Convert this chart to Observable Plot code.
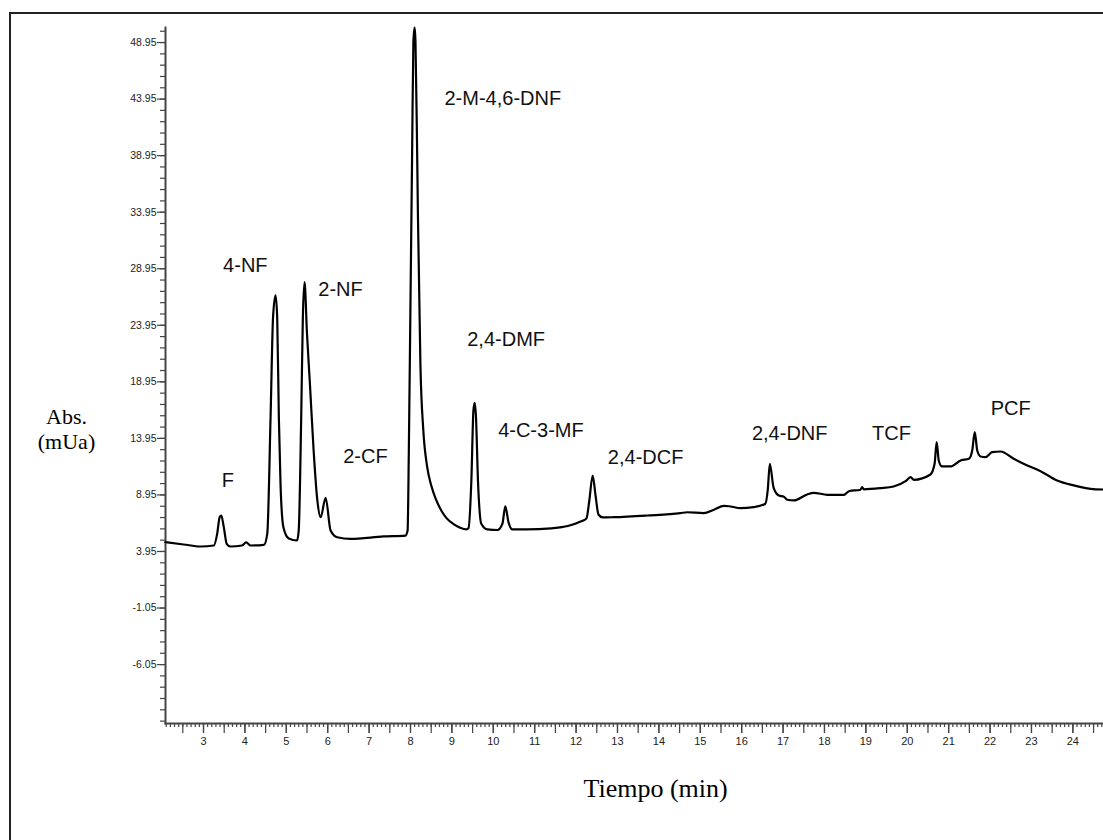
<!DOCTYPE html>
<html>
<head>
<meta charset="utf-8">
<script src="https://cdn.jsdelivr.net/npm/d3@7"></script>
<script src="https://cdn.jsdelivr.net/npm/@observablehq/plot@0.6"></script>
<style>
  html, body { margin: 0; padding: 0; background: #fff; overflow: hidden; }
  #wrap { position: relative; width: 1103px; height: 840px; }
  #border { position: absolute; left: 9px; top: 12px; width: 3000px; height: 3000px;
            border-left: 2px solid #222; border-top: 2px solid #222; pointer-events: none; }
</style>
</head>
<body>
<div id="wrap"><div id="border"></div></div>
<script>
// Chromatogram trace: retention time (min) and absorbance (mUa)
const timeMin = [
  2.08, 2.52, 2.93, 3.25, 3.33, 3.39, 3.43, 3.49, 3.56, 3.65, 3.93, 4.03, 4.14, 4.46,
  4.54, 4.62, 4.68, 4.74, 4.78, 4.82, 4.86, 4.93, 5.06, 5.26,
  5.30, 5.36, 5.40, 5.44, 5.50, 5.57, 5.66, 5.75, 5.83, 5.95, 6.07, 6.23, 6.55, 7.35, 7.88,
  7.93, 7.96, 8.00, 8.04, 8.07, 8.10, 8.12, 8.16, 8.18, 8.24, 8.31, 8.40, 8.50, 8.61, 8.74, 8.87, 9.05, 9.20, 9.35,
  9.40, 9.47, 9.52, 9.55, 9.58, 9.63, 9.71, 9.86,
  10.10, 10.22, 10.29, 10.37, 10.46, 10.80, 11.40, 11.80, 12.11,
  12.25, 12.32, 12.40, 12.47, 12.54, 12.64, 12.91, 13.72, 14.52, 14.68, 15.08, 15.33, 15.57, 15.73,
  15.97, 16.29, 16.57, 16.63, 16.68, 16.77, 16.90, 17.02, 17.10, 17.26, 17.58, 17.74, 18.07, 18.47,
  18.59, 18.87, 18.91, 18.95, 19.35, 19.67, 19.96, 20.08, 20.16, 20.56, 20.66, 20.71, 20.76, 20.84,
  21.04, 21.29, 21.49, 21.57, 21.63, 21.69, 21.77, 21.89, 22.05, 22.25, 22.57, 22.90, 23.22, 23.62,
  24.02, 24.43, 24.74
];
const absorbance = [
  4.77, 4.57, 4.39, 4.48, 5.51, 6.98, 7.13, 6.10, 4.63, 4.39, 4.48, 4.75, 4.48, 4.54,
  5.51, 15.82, 24.67, 26.60, 24.67, 15.82, 9.96, 6.10, 5.10, 4.92,
  5.81, 15.82, 24.67, 27.76, 23.20, 18.80, 12.88, 8.46, 6.98, 8.70, 5.81, 5.21, 5.07, 5.28, 5.36,
  5.80, 12.90, 26.10, 39.40, 49.10, 50.30, 49.10, 39.40, 33.60, 20.40, 14.65, 11.50, 9.80, 8.60, 7.60, 6.90, 6.35, 6.05, 5.90,
  6.00, 10.20, 16.40, 17.10, 16.00, 10.20, 6.40, 5.90,
  5.85, 6.40, 7.93, 6.50, 5.90, 5.90, 6.00, 6.20, 6.60,
  6.87, 8.46, 10.67, 8.90, 7.22, 6.96, 6.98, 7.13, 7.34, 7.42, 7.34, 7.64, 7.99, 7.93,
  7.78, 7.87, 8.17, 9.40, 11.70, 9.60, 8.90, 8.80, 8.52, 8.46, 8.99, 9.14, 8.96, 8.96,
  9.28, 9.41, 9.64, 9.45, 9.55, 9.70, 10.17, 10.52, 10.29, 10.76, 11.70, 13.62, 12.00, 11.47,
  11.47, 12.00, 12.15, 12.90, 14.50, 12.88, 12.35, 12.29, 12.73, 12.79, 12.15, 11.55, 11.05, 10.23,
  9.79, 9.49, 9.43
];

// Peak labels
const peakNames = ["F", "4-NF", "2-NF", "2-CF", "2-M-4,6-DNF", "2,4-DMF", "4-C-3-MF", "2,4-DCF", "2,4-DNF", "TCF", "PCF"];
const peakLabelTime = [3.59, 4.01, 6.31, 6.91, 10.23, 10.31, 11.15, 13.68, 17.16, 19.62, 22.50];
const peakLabelAbs  = [10.18, 29.24, 27.10, 12.30, 43.99, 22.70, 14.67, 12.29, 14.38, 14.38, 16.59];

// Axis ticks and labels
const xLabelTicks = d3.range(3, 25);
const xHalfTicks = d3.range(5, 50).map(i => i / 2);
const xMinorTicks = d3.range(21, 248).map(i => i / 10);
const yLabelTicks = d3.range(0, 12).map(i => +(-6.05 + 5 * i).toFixed(2));
const yMinorTicks = d3.range(0, 62).map(i => +(-11.05 + i).toFixed(2));
const xTitle = "Tiempo (min)";
const yTitle = "Abs.\n(mUa)";

const trace = timeMin.map((t, i) => ({t, v: absorbance[i]}));
const peaks = peakNames.map((name, i) => ({name, t: peakLabelTime[i], v: peakLabelAbs[i]}));

const sans = "Arial, 'Liberation Sans', sans-serif";
const serif = "'Times New Roman', 'Liberation Serif', serif";

const chart = Plot.plot({
  width: 1103,
  height: 840,
  marginLeft: 165,
  marginRight: 0,
  marginTop: 27,
  marginBottom: 117,
  style: {background: "transparent", fontFamily: sans, color: "#222"},
  x: {domain: [2.082, 24.74], label: null},
  y: {domain: [-11.26, 50.28], label: null},
  marks: [
    Plot.axisX(xMinorTicks, {tickSize: 4, tickFormat: () => "", stroke: "#444", strokeWidth: 1.2, label: null}),
    Plot.axisX(xHalfTicks, {tickSize: 10, tickFormat: () => "", stroke: "#444", strokeWidth: 1.2, label: null}),
    Plot.axisX(xLabelTicks, {tickSize: 10, tickPadding: 4, tickFormat: d => String(d), fontSize: 11, stroke: "#444", strokeWidth: 1.2, label: null}),
    Plot.axisY(yMinorTicks, {tickSize: 5, tickFormat: () => "", stroke: "#444", strokeWidth: 1.2, label: null}),
    Plot.axisY(yLabelTicks, {tickSize: 8, tickPadding: 1, tickFormat: d => d.toFixed(2), fontSize: 10.5, stroke: "#444", strokeWidth: 1.2, label: null}),
    Plot.frame({anchor: "left", stroke: "#444", strokeWidth: 2}),
    Plot.frame({anchor: "bottom", stroke: "#444", strokeWidth: 2}),
    Plot.line(trace, {x: "t", y: "v", stroke: "#000", strokeWidth: 2.2, curve: "monotone-x"}),
    Plot.text(peaks, {x: "t", y: "v", text: "name", fontSize: 20, fontFamily: sans, fill: "#111"}),
    Plot.text([yTitle], {frameAnchor: "left", y: () => 14.83, dx: -99, textAnchor: "middle", text: d => d, fontSize: 22, fontFamily: serif, fill: "#000", lineHeight: 1.15}),
    Plot.text([xTitle], {x: () => 13.92, frameAnchor: "bottom", dy: 73, textAnchor: "middle", text: d => d, fontSize: 26, fontFamily: serif, fill: "#000"})
  ]
});
document.getElementById("wrap").prepend(chart);
</script>
</body>
</html>
